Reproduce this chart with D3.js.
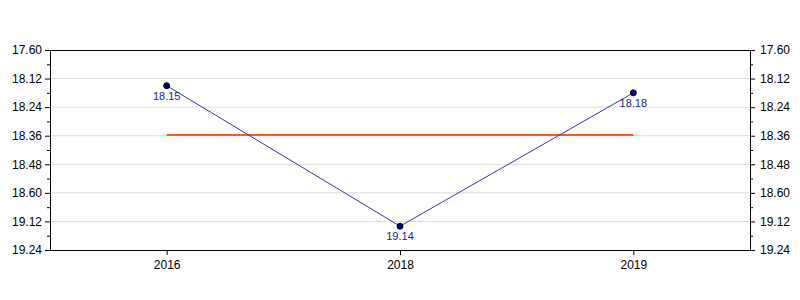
<!DOCTYPE html>
<html>
<head>
<meta charset="utf-8">
<script src="https://cdn.jsdelivr.net/npm/d3@7"></script>
<style>
  body { margin: 0; background: #fff; }
  svg { display: block; font-family: "Liberation Sans", Arial, sans-serif; }
</style>
</head>
<body>
<svg id="chart" width="800" height="300"></svg>
<script>
'use strict';

// years on the x axis
const years = ['2016', '2018', '2019'];
// times, minutes.seconds
const times = ['18.15', '19.14', '18.18'];
// y axis ticks (in seconds) and the labels printed next to them
const yTicks = [1080, 1092, 1104, 1116, 1128, 1140, 1152, 1164];
const yTickLabels = ['17.60', '18.12', '18.24', '18.36', '18.48', '18.60', '19.12', '19.24'];

// "18.15" -> 18 min 15 s -> 1095 s
const toSeconds = (t) => {
  const [m, s] = t.split('.');
  return (+m) * 60 + (+s);
};

const data = years.map((y, i) => ({ year: y, label: times[i], secs: toSeconds(times[i]) }));
const avg = d3.mean(data, (d) => d.secs);

const svg = d3.select('#chart');
const width = 800;
const height = 300;
const marg = { top: 50, right: 50, bottom: 50, left: 50 };

// Setting scales
const xScale = d3.scalePoint()
  .domain(years)
  .range([marg.left, width - marg.right])
  .padding(0.5);
const yScale = d3.scaleLinear()
  .domain([yTicks[0], yTicks[yTicks.length - 1]])
  .range([marg.top, height - marg.bottom]);

// minor ticks halfway between the labelled ones
const minorTicks = yTicks.slice(1).map((t, i) => (t + yTicks[i]) / 2);

// Gridlines
svg.append('g')
  .selectAll('line')
  .data(yTicks.slice(1, -1))
  .join('line')
  .attr('x1', marg.left).attr('x2', width - marg.right)
  .attr('y1', (d) => yScale(d)).attr('y2', (d) => yScale(d))
  .style('stroke', '#dcdcdc')
  .style('stroke-width', 1);

// Y axes, left and right
const fmt = (d) => yTickLabels[yTicks.indexOf(d)];
const addY = (axisFn, x, pad) => {
  const g = svg.append('g')
    .attr('transform', `translate(${x},0)`)
    .call(axisFn(yScale).tickValues(yTicks).tickFormat(fmt).tickSize(5).tickPadding(pad).tickSizeOuter(0));
  g.selectAll('text').style('font-size', '12px').style('fill', '#000');
  g.select('.domain').style('stroke', '#000');
  // minor ticks
  g.selectAll('.minor')
    .data(minorTicks)
    .join('line')
    .attr('class', 'minor')
    .attr('x1', 0).attr('x2', axisFn === d3.axisLeft ? -3 : 3)
    .attr('y1', (d) => yScale(d) + 0.5).attr('y2', (d) => yScale(d) + 0.5)
    .style('stroke', '#000');
};
addY(d3.axisLeft, marg.left, 3);
addY(d3.axisRight, width - marg.right, 5);

// top border
svg.append('line')
  .attr('x1', marg.left).attr('x2', width - marg.right)
  .attr('y1', marg.top + 0.5).attr('y2', marg.top + 0.5)
  .style('stroke', '#000');

// X Axis
const gx = svg.append('g')
  .attr('transform', `translate(0,${height - marg.bottom})`)
  .call(d3.axisBottom(xScale).tickSize(5).tickPadding(5).tickSizeOuter(0));
gx.select('.domain').attr('d', `M${marg.left},0.5H${width - marg.right}`).style('stroke', '#000');
gx.selectAll('text').style('font-size', '12px').style('fill', '#000');

// average line
svg.append('line')
  .attr('x1', xScale(years[0])).attr('x2', xScale(years[years.length - 1]))
  .attr('y1', yScale(avg)).attr('y2', yScale(avg))
  .style('stroke', '#ff5a1e')
  .style('stroke-width', 2);

// the times line
const line = d3.line()
  .x((d) => xScale(d.year))
  .y((d) => yScale(d.secs));
svg.append('path')
  .datum(data)
  .attr('d', line)
  .style('fill', 'none')
  .style('stroke', '#3535b8')
  .style('stroke-width', 1);

// points
svg.selectAll('.pt')
  .data(data)
  .join('circle')
  .attr('class', 'pt')
  .attr('cx', (d) => xScale(d.year))
  .attr('cy', (d) => yScale(d.secs))
  .attr('r', 3)
  .style('fill', '#000080')
  .style('stroke', '#000')
  .style('stroke-width', 1);

// point labels, under each point
svg.selectAll('.lbl')
  .data(data)
  .join('text')
  .attr('class', 'lbl')
  .attr('x', (d) => xScale(d.year))
  .attr('y', (d) => yScale(d.secs) + 14)
  .attr('text-anchor', 'middle')
  .style('font-size', '11px')
  .style('fill', '#1c1ca0')
  .text((d) => d.label);
</script>
</body>
</html>
